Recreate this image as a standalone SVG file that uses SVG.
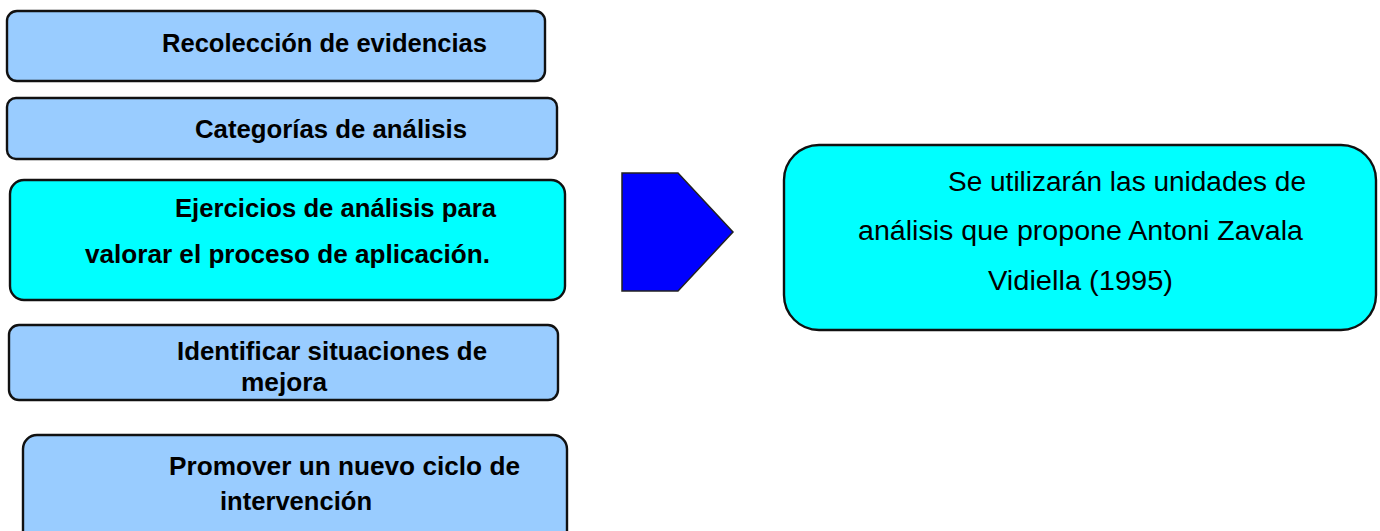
<svg xmlns="http://www.w3.org/2000/svg" width="1380" height="531" viewBox="0 0 1380 531">
<style>
.box{stroke:#111;stroke-width:2.4}
.blue{fill:#99CCFF}
.cyan{fill:#00FFFF}
.b{font-family:"Liberation Sans",Arial,sans-serif;font-weight:bold;font-size:26px;fill:#000}
.n{font-family:"Liberation Sans",Arial,sans-serif;font-size:27px;fill:#000}
</style>
<rect width="1380" height="531" fill="#fff"/>
<g id="n1">
<rect class="box blue" x="7" y="11" width="538" height="70" rx="10"/>
<text class="b" x="162" y="52" textLength="325" lengthAdjust="spacingAndGlyphs">Recolección de evidencias</text>
</g>
<g id="n2">
<rect class="box blue" x="7" y="98" width="550" height="61" rx="9"/>
<text class="b" x="195" y="138" textLength="272" lengthAdjust="spacingAndGlyphs">Categorías de análisis</text>
</g>
<g id="n3">
<rect class="box cyan" x="10" y="180" width="555" height="120" rx="14"/>
<text class="b" x="175" y="217" textLength="321" lengthAdjust="spacingAndGlyphs">Ejercicios de análisis para</text>
<text class="b" x="85" y="263" textLength="405" lengthAdjust="spacingAndGlyphs">valorar el proceso de aplicación.</text>
</g>
<g id="n4">
<rect class="box blue" x="9" y="325" width="549" height="75" rx="10"/>
<text class="b" x="177" y="360" textLength="310" lengthAdjust="spacingAndGlyphs">Identificar situaciones de</text>
<text class="b" x="241" y="391" textLength="86" lengthAdjust="spacingAndGlyphs">mejora</text>
</g>
<g id="n5">
<rect class="box blue" x="23" y="435" width="544" height="110" rx="14"/>
<text class="b" x="169" y="475" textLength="351" lengthAdjust="spacingAndGlyphs">Promover un nuevo ciclo de</text>
<text class="b" x="220" y="510" textLength="152" lengthAdjust="spacingAndGlyphs">intervención</text>
</g>
<g id="connectors">
<polygon points="622,173 678,173 733,232 678,291 622,291" fill="#0000FF" stroke="#222" stroke-width="1.5"/>
</g>
<g id="n6">
<rect class="box cyan" x="784" y="145" width="592" height="185" rx="35"/>
<text class="n" x="948" y="191" textLength="358" lengthAdjust="spacingAndGlyphs">Se utilizarán las unidades de</text>
<text class="n" x="858" y="240" textLength="445" lengthAdjust="spacingAndGlyphs">análisis que propone Antoni Zavala</text>
<text class="n" x="988" y="290" textLength="185" lengthAdjust="spacingAndGlyphs">Vidiella (1995)</text>
</g>
</svg>
